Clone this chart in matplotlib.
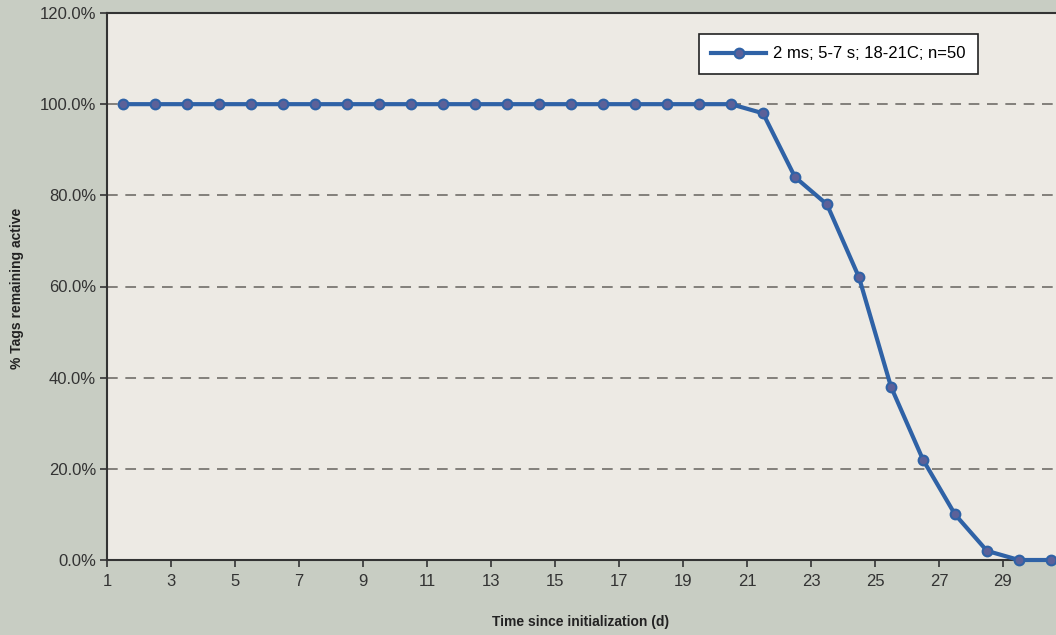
import matplotlib.pyplot as plt
from matplotlib.ticker import FuncFormatter

plt.rcParams['font.family'] = ['Liberation Sans', 'DejaVu Sans']

days = [1.5, 2.5, 3.5, 4.5, 5.5, 6.5, 7.5, 8.5, 9.5, 10.5,
        11.5, 12.5, 13.5, 14.5, 15.5, 16.5, 17.5, 18.5, 19.5, 20.5,
        21.5, 22.5, 23.5, 24.5, 25.5, 26.5, 27.5, 28.5, 29.5, 30.5]
active_pct = [100, 100, 100, 100, 100, 100, 100, 100, 100, 100,
              100, 100, 100, 100, 100, 100, 100, 100, 100, 100,
              98, 84, 78, 62, 38, 22, 10, 2, 0, 0]
series_label = "2 ms; 5-7 s; 18-21C; n=50"
x_ticks = list(range(1, 31, 2))
y_ticks = [0, 20, 40, 60, 80, 100, 120]

W, H = 1056, 635
fig = plt.figure(figsize=(W / 100, H / 100), dpi=100)
fig.patch.set_facecolor("#c8cdc3")

# plot area: left edge at 107 px, 32 px per day, runs past the right edge
ax = fig.add_axes([107 / W, 75 / H, 960 / W, 547 / H])
ax.set_facecolor("#edeae4")

for y in y_ticks[1:-1]:
    ax.axhline(y, color="#66635e", lw=1.1, ls=(0, (7, 5)), zorder=1)

ax.plot(days, active_pct, color="#2f62a6", lw=3, marker="o", ms=7,
        mfc="#5c6199", mec="#2f62a6", mew=1.5, label=series_label, zorder=3,
        clip_on=False)

ax.set_xlim(1, 31)
ax.set_ylim(0, 120)
ax.set_xticks(x_ticks)
ax.set_yticks(y_ticks)
ax.yaxis.set_major_formatter(FuncFormatter(lambda v, p: f"{v:.1f}%"))
ax.tick_params(axis="both", labelsize=12, colors="#333333", length=5,
               width=1.2, direction="out")
ax.tick_params(axis="x", pad=5)
ax.tick_params(axis="y", pad=3)
for s in ax.spines.values():
    s.set_color("#333333")
    s.set_linewidth(1.5)

fig.text(17 / W, 1 - 288 / H, "% Tags remaining active", rotation=90,
         ha="center", va="center", fontsize=10, fontweight="bold",
         color="#222222")
fig.text(581 / W, 1 - 622 / H, "Time since initialization (d)",
         ha="center", va="center", fontsize=10, fontweight="bold",
         color="#222222")

leg = ax.legend(loc="upper left", bbox_to_anchor=((699 - 107) / 960, 1 - 21 / 547),
                frameon=True, fancybox=False, fontsize=12, handlelength=3.3,
                borderpad=0.75, handletextpad=0.4, borderaxespad=0)
leg.get_frame().set_edgecolor("#222222")
leg.get_frame().set_linewidth(1.2)
leg.get_frame().set_facecolor("white")
leg.get_frame().set_alpha(1)

fig.savefig("out.png", dpi=100, facecolor=fig.get_facecolor())
